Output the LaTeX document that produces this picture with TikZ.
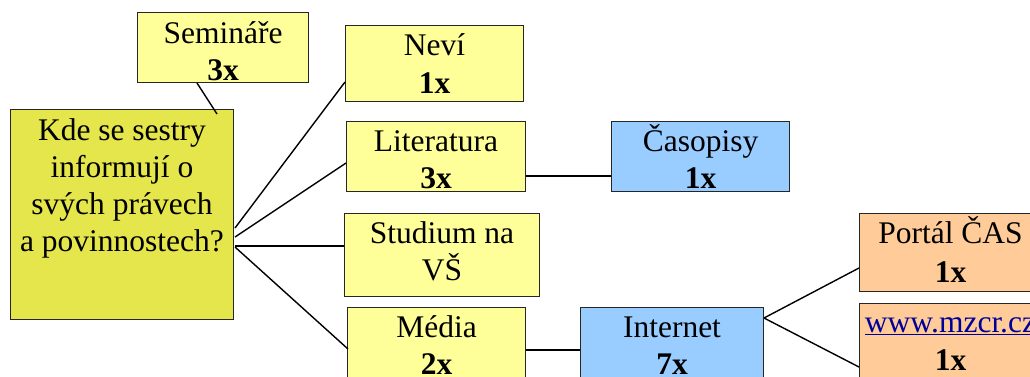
\documentclass[tikz,border=0pt]{standalone}
\usepackage{fontspec}
\setmainfont{Liberation Serif}
\usetikzlibrary{calc}
\definecolor{paleyellow}{HTML}{FFFF99}
\definecolor{questionyellow}{HTML}{E5E54C}
\definecolor{skyblue}{HTML}{99CCFF}
\definecolor{peach}{HTML}{FFCC99}
\definecolor{linkblue}{HTML}{000099}
\begin{document}
\begin{tikzpicture}[x=1pt,y=-1pt,
  box/.style={draw=black!85, line width=1pt, inner sep=0pt, anchor=north west},
  lbl/.style={inner sep=0pt, anchor=base, font=\fontsize{31.5}{37}\selectfont},
  cnt/.style={inner sep=0pt, anchor=base, font=\fontsize{31.5}{37}\selectfont\bfseries},
  link/.style={draw=black, line width=1.4pt}]
\useasboundingbox (0,0) rectangle (1030,376);
\clip (0,0) rectangle (1030,376);

% boxes
\node[box, fill=paleyellow, minimum width=171pt, minimum height=70pt] (sem) at (137,12) {};
\node[box, fill=questionyellow, minimum width=223pt, minimum height=210pt] (main) at (10,109) {};
\node[box, fill=paleyellow, minimum width=178pt, minimum height=76pt] (nevi) at (345,25) {};
\node[box, fill=paleyellow, minimum width=179pt, minimum height=70pt] (lit) at (346,121) {};
\node[box, fill=skyblue, minimum width=178pt, minimum height=70pt] (cas) at (611,121) {};
\node[box, fill=paleyellow, minimum width=195pt, minimum height=83pt] (stud) at (344,213) {};
\node[box, fill=paleyellow, minimum width=178pt, minimum height=100pt] (media) at (347,307) {};
\node[box, fill=skyblue, minimum width=183pt, minimum height=100pt] (inet) at (580,307) {};
\node[box, fill=peach, minimum width=182pt, minimum height=78pt] (portal) at (859,213) {};
\node[box, fill=peach, minimum width=182pt, minimum height=100pt] (www) at (859,303) {};

% texts
\node[lbl] (semA) at ($(sem.north)+(0,31)$) {Semináře};
\node[cnt] (semB) at ($(sem.north)+(0,68)$) {3x};

\node[lbl] (mainA) at ($(main.north)+(0,31)$) {Kde se sestry};
\node[lbl] (mainB) at ($(main.north)+(0,68)$) {informují o};
\node[lbl] (mainC) at ($(main.north)+(0,105)$) {svých právech};
\node[lbl] (mainD) at ($(main.north)+(0,142)$) {a povinnostech?};

\node[lbl] (neviA) at ($(nevi.north)+(0,30)$) {Neví};
\node[cnt] (neviB) at ($(nevi.north)+(0,68)$) {1x};

\node[lbl] (litA) at ($(lit.north)+(0,30)$) {Literatura};
\node[cnt] (litB) at ($(lit.north)+(0,67)$) {3x};

\node[lbl] (casA) at ($(cas.north)+(0,30)$) {Časopisy};
\node[cnt] (casB) at ($(cas.north)+(0,67)$) {1x};

\node[lbl] (studA) at ($(stud.north)+(0,30)$) {Studium na};
\node[lbl] (studB) at ($(stud.north)+(0,67)$) {VŠ};

\node[lbl] (mediaA) at ($(media.north)+(0,30)$) {Média};
\node[cnt] (mediaB) at ($(media.north)+(0,67)$) {2x};

\node[lbl] (inetA) at ($(inet.north)+(0,30)$) {Internet};
\node[cnt] (inetB) at ($(inet.north)+(0,67)$) {7x};

\node[lbl] (portalA) at ($(portal.north)+(0,30)$) {Portál ČAS};
\node[cnt] (portalB) at ($(portal.north)+(0,69)$) {1x};

\node[lbl, text=linkblue] (wwwA) at ($(www.north)+(0,29)$) {\underline{www.mzcr.cz}};
\node[cnt] (wwwB) at ($(www.north)+(0,67)$) {1x};

% connectors
\draw[link] ($(sem.south west)+(60,0)$) -- ($(main.north west)+(207,5)$);
\draw[link] ($(main.north east)+(1,119)$) -- ($(nevi.north west)+(0,57)$);
\draw[link] ($(main.north east)+(1,128)$) -- ($(lit.north west)+(0,42)$);
\draw[link] ($(main.north east)+(1,137)$) -- ($(stud.north west)+(0,33)$);
\draw[link] ($(main.north east)+(1,138)$) -- ($(media.north west)+(1,42)$);
\draw[link] ($(lit.north east)+(0,55)$) -- ($(cas.north west)+(0,55)$);
\draw[link] ($(media.north east)+(0,43)$) -- ($(inet.north west)+(0,43)$);
\draw[link] ($(inet.north east)+(0,11)$) -- ($(portal.north west)+(0,55)$);
\draw[link] ($(inet.north east)+(0,11)$) -- ($(www.north west)+(0,64)$);
\end{tikzpicture}
\end{document}
